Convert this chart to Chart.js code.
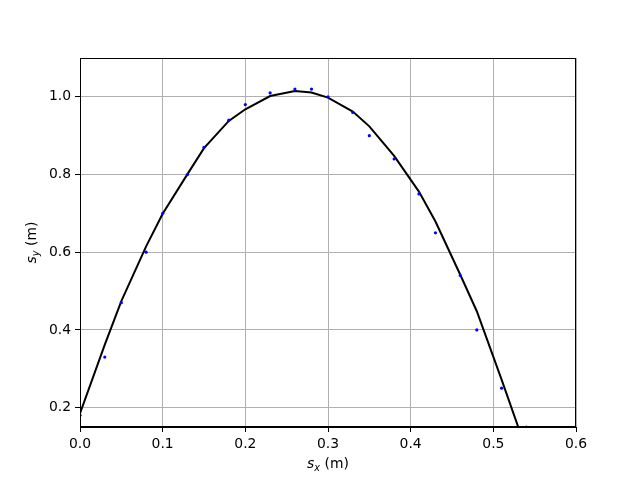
<!DOCTYPE html>
<html>
<head>
<meta charset="utf-8">
<script src="https://cdn.jsdelivr.net/npm/chart.js@4.4.1/dist/chart.umd.min.js"></script>
<style>
  html, body { margin: 0; padding: 0; background: #fff; }
  #wrap { width: 640px; height: 480px; }
</style>
</head>
<body>
<div id="wrap"><canvas id="c" width="640" height="480"></canvas></div>
<script>
// measured positions (blue dots) and fitted curve (black line)
const sx = [0.00, 0.03, 0.05, 0.08, 0.10, 0.13, 0.15, 0.18, 0.20, 0.23, 0.26,
            0.28, 0.30, 0.33, 0.35, 0.38, 0.41, 0.43, 0.46, 0.48, 0.51, 0.54];
const syMeasured = [0.18, 0.33, 0.47, 0.60, 0.70, 0.80, 0.87, 0.94, 0.98, 1.01, 1.02,
                    1.02, 1.00, 0.96, 0.90, 0.84, 0.75, 0.65, 0.54, 0.40, 0.25, 0.15];
const syFit = [0.185, 0.362, 0.474, 0.615, 0.699, 0.801, 0.868, 0.938, 0.968, 1.002, 1.015,
               1.011, 0.998, 0.962, 0.924, 0.848, 0.756, 0.679, 0.542, 0.448, 0.272, 0.09];
const xTicks = [0.0, 0.1, 0.2, 0.3, 0.4, 0.5, 0.6];
const yTicks = [0.2, 0.4, 0.6, 0.8, 1.0];

const FONT = 'DejaVu Sans';

const frameAndLabels = {
  id: 'frameAndLabels',
  afterDraw(chart) {
    const { ctx, chartArea: a } = chart;
    ctx.save();
    ctx.strokeStyle = '#000';
    ctx.lineWidth = 1;
    ctx.strokeRect(a.left + 0.5, a.top + 0.5, a.right - a.left - 1, a.bottom - a.top - 1);

    // axis titles with italic s and subscript
    const drawLabel = (sub) => {
      ctx.font = 'italic 13.9px "' + FONT + '"';
      const wS = ctx.measureText('s').width;
      ctx.font = 'italic 9.7px "' + FONT + '"';
      const wSub = ctx.measureText(sub).width;
      ctx.font = '13.9px "' + FONT + '"';
      const wRest = ctx.measureText(' (m)').width;
      const total = wS + wSub + wRest;
      let x = -total / 2;
      ctx.textBaseline = 'alphabetic';
      ctx.textAlign = 'left';
      ctx.font = 'italic 13.9px "' + FONT + '"';
      ctx.fillText('s', x, 0);
      x += wS;
      ctx.font = 'italic 9.7px "' + FONT + '"';
      ctx.fillText(sub, x, 3);
      x += wSub;
      ctx.font = '13.9px "' + FONT + '"';
      ctx.fillText(' (m)', x, 0);
    };
    ctx.fillStyle = '#000';
    ctx.save();
    ctx.translate((a.left + a.right) / 2, 468);
    drawLabel('x');
    ctx.restore();
    ctx.save();
    ctx.translate(36, (a.top + a.bottom) / 2);
    ctx.rotate(-Math.PI / 2);
    drawLabel('y');
    ctx.restore();
    ctx.restore();
  }
};

new Chart(document.getElementById('c'), {
  type: 'scatter',
  data: {
    datasets: [
      {
        label: 'fit',
        data: sx.map((x, i) => ({ x: x, y: syFit[i] })),
        showLine: true,
        borderColor: '#000',
        borderWidth: 2,
        pointRadius: 0,
        tension: 0,
        order: 2
      },
      {
        label: 'measured',
        data: sx.map((x, i) => ({ x: x, y: syMeasured[i] })),
        showLine: false,
        backgroundColor: '#0000ff',
        borderColor: '#0000ff',
        borderWidth: 0,
        pointRadius: 1.6,
        order: 1
      }
    ]
  },
  options: {
    responsive: false,
    animation: false,
    events: [],
    layout: { padding: { left: 0, right: 64, top: 58, bottom: 0 } },
    plugins: { legend: { display: false }, tooltip: { enabled: false } },
    scales: {
      x: {
        type: 'linear',
        min: 0,
        max: 0.6,
        afterBuildTicks: s => { s.ticks = xTicks.map(v => ({ value: v })); },
        afterFit: s => { s.height = 53; },
        grid: { color: '#b0b0b0', lineWidth: 1, tickColor: '#000', tickLength: 5 },
        border: { color: '#000', width: 1 },
        ticks: {
          color: '#000',
          padding: 4,
          maxRotation: 0,
          font: { family: FONT, size: 13.9 },
          callback: v => v.toFixed(1)
        }
      },
      y: {
        type: 'linear',
        min: 0.15,
        max: 1.1,
        afterBuildTicks: s => { s.ticks = yTicks.map(v => ({ value: v })); },
        afterFit: s => { s.width = 80; },
        grid: { color: '#b0b0b0', lineWidth: 1, tickColor: '#000', tickLength: 5 },
        border: { color: '#000', width: 1 },
        ticks: {
          color: '#000',
          padding: 4,
          font: { family: FONT, size: 13.9 },
          callback: v => v.toFixed(1)
        }
      }
    }
  },
  plugins: [frameAndLabels]
});
</script>
</body>
</html>
